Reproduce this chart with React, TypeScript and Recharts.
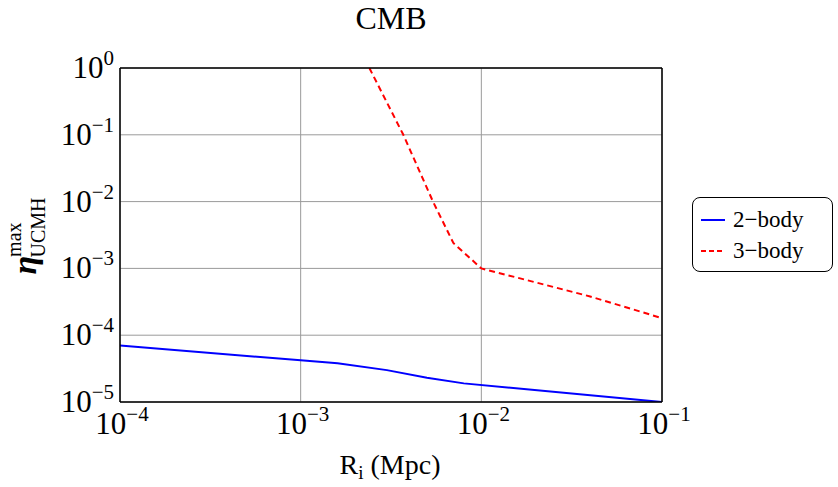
import { LineChart, Line, XAxis, YAxis, CartesianGrid } from 'recharts';

const xTicks = [1e-4, 1e-3, 1e-2, 1e-1];
const xTickExp = ['−4', '−3', '−2', '−1'];
const yTicks = [1e-5, 1e-4, 1e-3, 1e-2, 1e-1, 1];
const yTickExp = ['−5', '−4', '−3', '−2', '−1', '0'];

const twoBodyR = [1e-4, 1e-3, 1.6e-3, 3e-3, 5e-3, 8e-3, 1e-1];
const twoBodyEta = [7e-5, 4.2e-5, 3.8e-5, 3.0e-5, 2.3e-5, 1.9e-5, 1e-5];

const threeBodyR = [2.4e-3, 3.7e-3, 5.4e-3, 7e-3, 1e-2, 4e-2, 1e-1];
const threeBodyEta = [1, 0.1, 0.01, 2.4e-3, 1e-3, 3.8e-4, 1.8e-4];

const twoBody = twoBodyR.map((r, i) => ({ r, eta: twoBodyEta[i] }));
const threeBody = threeBodyR.map((r, i) => ({ r, eta: threeBodyEta[i] }));

const font = '"Liberation Serif", "DejaVu Serif", serif';

const findIdx = (arr: number[], v: number) =>
  arr.findIndex((t) => Math.abs(Math.log10(t) - Math.log10(v)) < 1e-6);

const XTick = (props: any) => {
  const { x, y, payload } = props;
  const i = findIdx(xTicks, payload.value);
  return (
    <text x={x + 2} y={y + 24} textAnchor="middle" fontFamily={font} fontSize={31} fill="#000">
      10<tspan dy={-13} fontSize={21}>{xTickExp[i]}</tspan>
    </text>
  );
};

const YTick = (props: any) => {
  const { x, y, payload } = props;
  const i = findIdx(yTicks, payload.value);
  return (
    <text x={x + 2} y={y + 10} textAnchor="end" fontFamily={font} fontSize={31} fill="#000">
      10<tspan dy={-13} fontSize={21}>{yTickExp[i]}</tspan>
    </text>
  );
};

const series = [
  { label: '2−body', color: '#0000ff', dash: undefined },
  { label: '3−body', color: '#ff0000', dash: '5 3' },
];

export default function App() {
  return (
    <div style={{ position: 'absolute', left: 0, top: 0, width: 838, height: 487, background: '#fff' }}>
      <svg style={{ position: 'absolute', left: 0, top: 0 }} width={838} height={487}>
        <text x={391} y={29} textAnchor="middle" fontFamily={font} fontSize={32} fill="#000">
          CMB
        </text>
        <text x={390} y={474} textAnchor="middle" fontFamily={font} fontSize={28} fill="#000">
          R<tspan fontSize={19} dy={5}>i</tspan>
          <tspan dy={-5}> (Mpc)</tspan>
        </text>
        <text transform="translate(36,236) rotate(-90)" textAnchor="middle" fontFamily={font} fill="#000">
          <tspan fontSize={34} fontStyle="italic" fontWeight="bold">η</tspan>
          <tspan fontSize={20} dy={-15} dx={-1}>max</tspan>
          <tspan fontSize={20} dy={24} dx={-35}>UCMH</tspan>
        </text>
      </svg>
      <div
        style={{
          position: 'absolute',
          left: 692,
          top: 197,
          width: 141,
          height: 75,
          border: '1.5px solid #000',
          borderRadius: 8,
          boxSizing: 'border-box',
          fontFamily: font,
          fontSize: 23,
          background: '#fff',
          paddingTop: 6,
        }}
      >
        {series.map((it) => (
          <div key={it.label} style={{ display: 'flex', alignItems: 'center', height: 31 }}>
            <svg width={40} height={10} style={{ marginLeft: 6 }}>
              <line x1={2} x2={26} y1={5} y2={5} stroke={it.color} strokeWidth={2} strokeDasharray={it.dash} />
            </svg>
            <span style={{ marginLeft: -6 }}>{it.label}</span>
          </div>
        ))}
      </div>
      <LineChart
        width={838}
        height={487}
        margin={{ top: 67, right: 175, bottom: 35, left: 20 }}
        style={{ position: 'absolute', left: 0, top: 0 }}
      >
        <CartesianGrid stroke="#9a9a9a" strokeWidth={1} />
        <XAxis
          dataKey="r"
          type="number"
          scale="log"
          domain={[1e-4, 1e-1]}
          ticks={xTicks}
          tick={XTick}
          tickLine={false}
          axisLine={{ stroke: '#000', strokeWidth: 1.5 }}
          height={50}
          allowDataOverflow
        />
        <XAxis
          xAxisId="top"
          orientation="top"
          type="number"
          scale="log"
          domain={[1e-4, 1e-1]}
          ticks={xTicks}
          tick={false}
          tickLine={false}
          axisLine={{ stroke: '#000', strokeWidth: 1.5 }}
          height={1}
        />
        <YAxis
          dataKey="eta"
          type="number"
          scale="log"
          domain={[1e-5, 1]}
          ticks={yTicks}
          tick={YTick}
          tickLine={false}
          axisLine={{ stroke: '#000', strokeWidth: 1.5 }}
          width={100}
          allowDataOverflow
        />
        <YAxis
          yAxisId="right"
          orientation="right"
          type="number"
          scale="log"
          domain={[1e-5, 1]}
          ticks={yTicks}
          tick={false}
          tickLine={false}
          axisLine={{ stroke: '#000', strokeWidth: 1.5 }}
          width={1}
        />
        <Line
          data={twoBody}
          dataKey="eta"
          type="linear"
          stroke="#0000ff"
          strokeWidth={2}
          dot={false}
          isAnimationActive={false}
          name="2−body"
        />
        <Line
          data={threeBody}
          dataKey="eta"
          type="linear"
          stroke="#ff0000"
          strokeWidth={2}
          strokeDasharray="6 4"
          dot={false}
          isAnimationActive={false}
          name="3−body"
        />
      </LineChart>
    </div>
  );
}
